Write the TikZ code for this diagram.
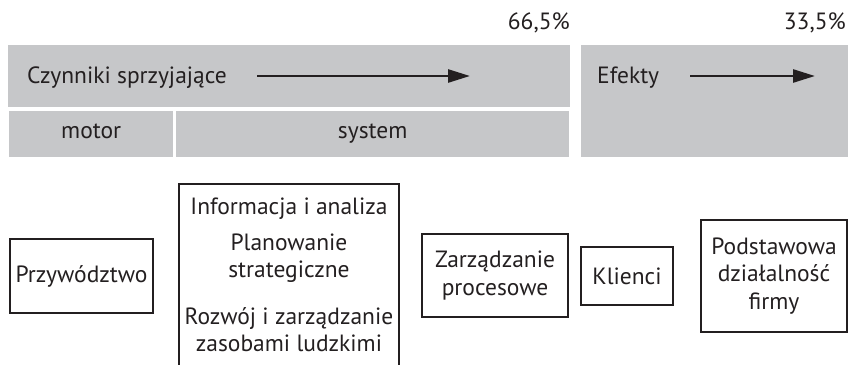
\documentclass[tikz,border=0pt]{standalone}
\usepackage{fontspec}
\setmainfont{PT Sans}
\usetikzlibrary{arrows.meta}
\definecolor{barfill}{HTML}{C6C7C9}
\definecolor{ink}{HTML}{231F20}
\tikzset{
  bar/.style={fill=barfill, inner sep=0pt, anchor=north west},
  lbl/.style={inner sep=0pt, text=ink},
  box/.style={draw=ink, line width=1.6pt, text=ink, align=center, inner sep=0pt},
  flow/.style={draw=ink, line width=2.6pt, -{Triangle[length=22pt, width=13pt]}},
}
\begin{document}
\begin{tikzpicture}[x=1pt, y=-1pt, font=\fontsize{23.5}{27.5}\selectfont]
    \clip (0,0) rectangle (850,364);
    % grey header bars
    \node[bar, minimum width=562pt, minimum height=62pt] (favour) at (8,45) {};
    \node[bar, minimum width=164pt, minimum height=46pt] (motor) at (9,111) {};
    \node[bar, minimum width=393pt, minimum height=46pt] (system) at (176,111) {};
    \node[bar, minimum width=267pt, minimum height=112pt] (effects) at (581,45) {};
    \node[lbl, anchor=base east] (share1) at (570,29) {66,5\%};
    \node[lbl, anchor=base east] (share2) at (846,29) {33,5\%};
    \node[lbl, anchor=base west] (favourtxt) at (27,83) {Czynniki sprzyjające};
    \node[lbl, anchor=base west] (effectstxt) at (597,83) {Efekty};
    \node[lbl, anchor=base] (motortxt) at (motor.center |- 0,138) {motor};
    \node[lbl, anchor=base] (systemtxt) at (system.center |- 0,138) {system};
    \coordinate (favourstart) at (257,76);
    \coordinate (favourend) at (470,76);
    \coordinate (effectsstart) at (690,76);
    \coordinate (effectsend) at (815,76);
    \draw[flow] (favourstart) -- (favourend);
    \draw[flow] (effectsstart) -- (effectsend);
    % boxes below
    \node[box, minimum width=143pt, minimum height=74pt] (lead) at (81.5,276) {Przywództwo};
    \node[box, minimum width=220pt, minimum height=182pt] (sysbox) at (289,275)
      {Informacja i analiza\\[8pt] Planowanie\\ strategiczne\\[19pt] Rozwój i zarządzanie\\ zasobami ludzkimi};
    \node[box, minimum width=146pt, minimum height=83pt] (process) at (495,275.5) {Zarządzanie\\ procesowe};
    \node[box, minimum width=92pt, minimum height=58pt] (clients) at (627,276) {Klienci};
    \node[box, minimum width=146pt, minimum height=112pt] (core) at (774,276) {Podstawowa\\ działalność\\ firmy};
  \end{tikzpicture}
\end{document}
